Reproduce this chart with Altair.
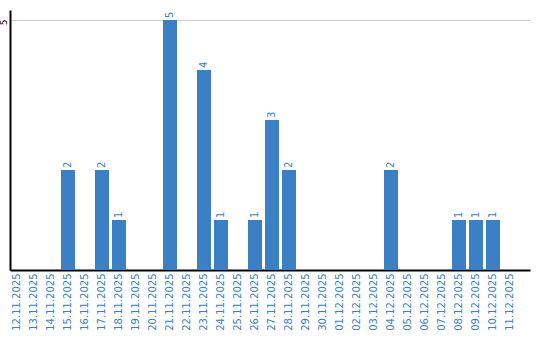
import altair as alt
import pandas as pd

dates = ["12.11.2025", "13.11.2025", "14.11.2025", "15.11.2025", "16.11.2025",
         "17.11.2025", "18.11.2025", "19.11.2025", "20.11.2025", "21.11.2025",
         "22.11.2025", "23.11.2025", "24.11.2025", "25.11.2025", "26.11.2025",
         "27.11.2025", "28.11.2025", "29.11.2025", "30.11.2025", "01.12.2025",
         "02.12.2025", "03.12.2025", "04.12.2025", "05.12.2025", "06.12.2025",
         "07.12.2025", "08.12.2025", "09.12.2025", "10.12.2025", "11.12.2025"]
counts = [0, 0, 0, 2, 0,
          2, 1, 0, 0, 5,
          0, 4, 1, 0, 1,
          3, 2, 0, 0, 0,
          0, 0, 2, 0, 0,
          0, 1, 1, 1, 0]

df = pd.DataFrame({"date": dates, "count": counts})

BLUE = "#3b7fc4"
FONT = "DejaVu Sans"

x = alt.X("date:N", sort=dates,
          scale=alt.Scale(paddingInner=0.176, paddingOuter=0.382, align=0),
          axis=alt.Axis(title=None, labelAngle=-90, labelColor=BLUE, labelFont=FONT,
                        labelFontSize=10, ticks=False, labelPadding=3,
                        domainColor="black", domainWidth=2, labelAlign="right",
                        labelBaseline="middle"))
y = alt.Y("count:Q", scale=alt.Scale(domain=[0, 5.2], nice=False),
          axis=alt.Axis(title=None, values=[5], labelAngle=-90, labelFont=FONT,
                        labelFontSize=9, labelColor="black", ticks=False,
                        labelPadding=2, labelAlign="center", labelBaseline="bottom",
                        labelOffset=2,
                        domainColor="black", domainWidth=2,
                        grid=True, gridColor="#cccccc", gridWidth=1))

bars = alt.Chart(df).mark_bar(color=BLUE).encode(x=x, y=y)

labels = alt.Chart(df).transform_filter("datum.count > 0").mark_text(
    angle=270, align="left", baseline="middle", dx=2, color=BLUE,
    font=FONT, fontSize=10
).encode(x=alt.X("date:N", sort=dates), y="count:Q", text="count:Q")

chart = alt.layer(bars, labels).properties(
    width=520, height=260,
    autosize=alt.AutoSizeParams(type="none"),
    padding={"left": 10, "top": 10, "right": 10, "bottom": 70},
    background="white",
).configure_view(stroke=None)

chart.save("out.html", embed_options={"renderer": "svg", "actions": False})
